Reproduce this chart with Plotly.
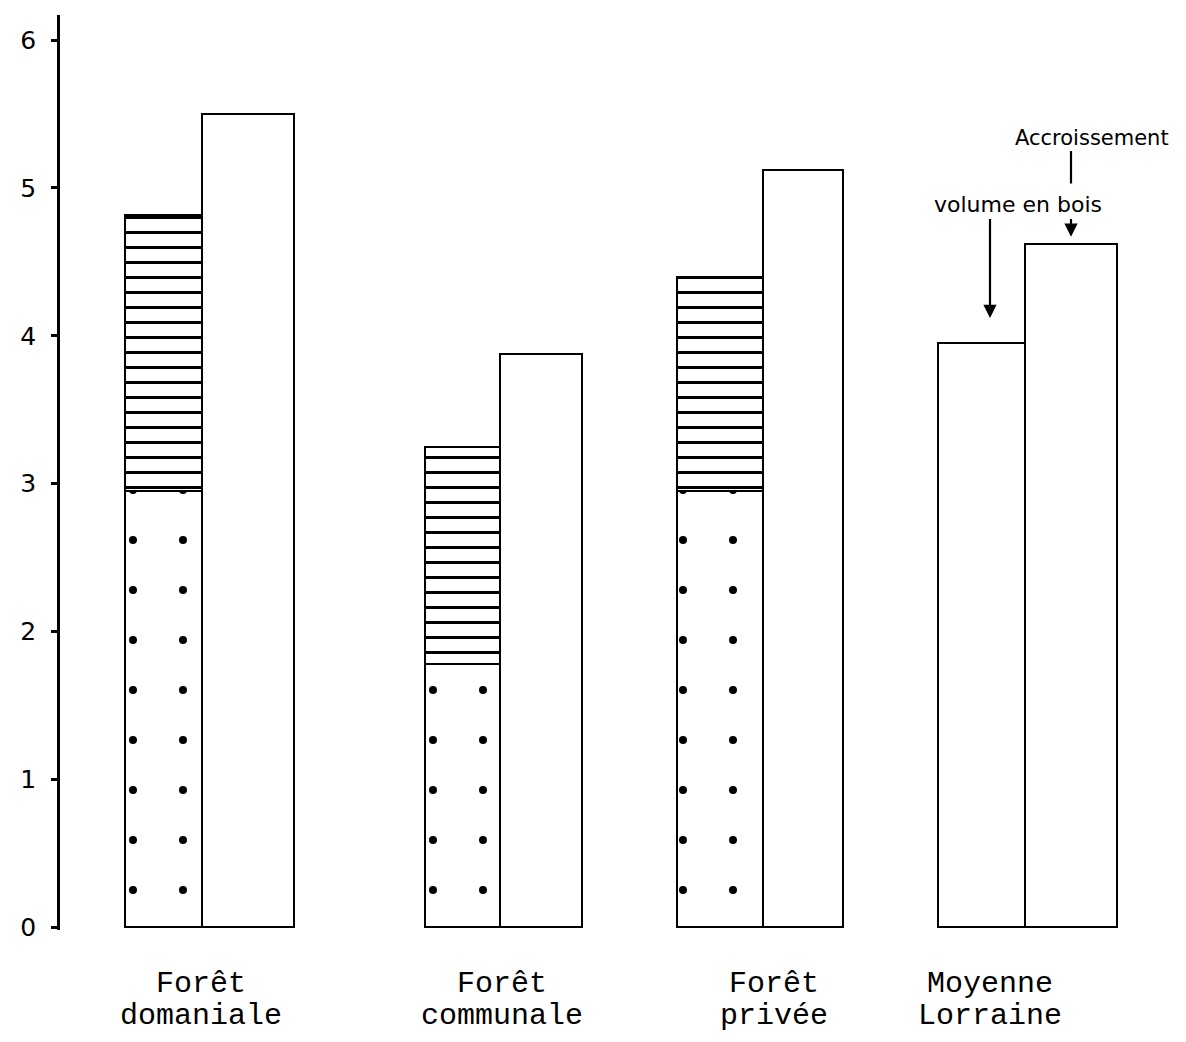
import plotly.graph_objects as go

# ---------------- data ----------------
categories = ["Forêt\ndomaniale", "Forêt\ncommunale", "Forêt\nprivée", "Moyenne\nLorraine"]
volume_circles = [2.95, 1.78, 2.95, 0.0]   # lower (dotted) part of the volume bar
volume_stripes = [1.87, 1.47, 1.45, 0.0]   # upper (striped) part of the volume bar
volume_plain = [0.0, 0.0, 0.0, 3.95]       # plain volume bar (Moyenne Lorraine)
accroissement = [5.5, 3.88, 5.12, 4.62]
y_ticks = [0, 1, 2, 3, 4, 5, 6]
y_tick_labels = ["0", "1", "2", "3", "4", "5", "6"]

# ---------------- layout constants (x units = page pixels) ----------------
PAGE_MARGIN = 8                      # default body margin of the html page
W, H = 1186 - 2 * PAGE_MARGIN, 1042 - 2 * PAGE_MARGIN
divider = [202, 500, 763, 1025]      # boundary between the two bars of each group
left_w = [77, 75, 86, 87]
right_w = [92, 82, 80, 92]
label_x = [201, 502, 774, 990]

left_x = [d - w / 2 for d, w in zip(divider, left_w)]
right_x = [d + w / 2 for d, w in zip(divider, right_w)]

line = dict(color="black", width=2.5)

fig = go.Figure()
fig.add_trace(go.Bar(
    x=left_x, y=volume_circles, width=left_w,
    marker=dict(color="white", line=line,
                pattern=dict(shape=".", fgcolor="black", bgcolor="white",
                             size=50, solidity=0.02, fillmode="replace")),
    showlegend=False, hoverinfo="y"))
fig.add_trace(go.Bar(
    x=left_x, y=volume_stripes, width=left_w,
    marker=dict(color="white", line=line,
                pattern=dict(shape="-", fgcolor="black", bgcolor="white",
                             size=15, solidity=0.2, fillmode="replace")),
    showlegend=False, hoverinfo="y"))
fig.add_trace(go.Bar(
    x=left_x, y=volume_plain, width=left_w,
    marker=dict(color="white", line=line),
    showlegend=False, hoverinfo="y"))
fig.add_trace(go.Bar(
    x=right_x, y=accroissement, width=right_w,
    marker=dict(color="white", line=line),
    showlegend=False, hoverinfo="y"))

mono = dict(family="Liberation Mono", size=30, color="black")
anns = []
for cat, lx in zip(categories, label_x):
    l1, l2 = cat.split("\n")
    anns.append(dict(x=lx, y=0, xref="x", yref="y", text=l1, showarrow=False,
                     font=mono, yshift=-57, yanchor="middle"))
    anns.append(dict(x=lx, y=0, xref="x", yref="y", text=l2, showarrow=False,
                     font=mono, yshift=-89, yanchor="middle"))

hand = dict(family="DejaVu Sans", size=22, color="black")
ax_lor = right_x[3]
vx_lor = 990
anns += [
    dict(x=1092, y=5.34, xref="x", yref="y", text="Accroissement",
         showarrow=False, font=dict(family="DejaVu Sans", size=21, color="black")),
    dict(x=1018, y=4.89, xref="x", yref="y", text="volume en bois",
         showarrow=False, font=hand),
    dict(x=ax_lor, y=accroissement[3] + 0.05, xref="x", yref="y",
         ax=ax_lor, ay=4.80, axref="x", ayref="y", text="", showarrow=True,
         arrowhead=2, arrowsize=1.2, arrowwidth=2.2, arrowcolor="black"),
    dict(x=vx_lor, y=volume_plain[3] + 0.17, xref="x", yref="y",
         ax=vx_lor, ay=4.80, axref="x", ayref="y", text="", showarrow=True,
         arrowhead=2, arrowsize=1.2, arrowwidth=2.2, arrowcolor="black"),
]

shapes = [
    dict(type="line", x0=ax_lor, x1=ax_lor, y0=5.25, y1=5.03, xref="x", yref="y",
         line=dict(color="black", width=2.2)),
]

fig.update_layout(
    width=W, height=H,
    paper_bgcolor="white", plot_bgcolor="white",
    barmode="stack", bargap=0,
    margin=dict(l=0, r=0, t=7, b=104),
    xaxis=dict(range=[PAGE_MARGIN, PAGE_MARGIN + W], visible=False),
    yaxis=dict(range=[-0.02, 6.17], anchor="free", position=(58 - PAGE_MARGIN) / W,
               showline=True, linecolor="black", linewidth=2.5,
               showgrid=False, zeroline=False,
               ticks="outside", ticklen=6, tickwidth=2.5, tickcolor="black",
               ticklabelstandoff=10,
               tickvals=y_ticks, ticktext=y_tick_labels,
               tickfont=dict(family="DejaVu Sans", size=25, color="black")),
    annotations=anns,
    shapes=shapes,
    showlegend=False,
)

fig.write_html("out.html")
